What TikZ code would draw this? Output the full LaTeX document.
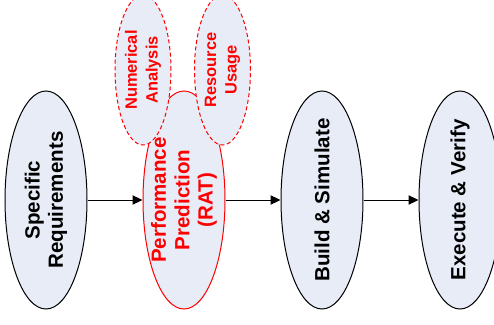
\documentclass[tikz,border=0pt]{standalone}
\usepackage{fontspec}
\setmainfont{Liberation Sans}
\usepackage{xcolor}
\usepackage{tikz}
\usetikzlibrary{positioning,arrows.meta,shapes.geometric}

\definecolor{stagefill}{RGB}{231,236,247}

\begin{document}
\begin{tikzpicture}[
  x=0.75pt, y=-0.75pt,
  stage/.style={draw, ellipse, fill=stagefill, line width=0.75pt, inner sep=0pt, minimum width=61.5pt, minimum height=163.5pt},
  hot/.style={draw=red},
  sub/.style={draw=red, dashed, dash pattern=on 3pt off 2pt, ellipse, fill=stagefill, line width=0.75pt, inner sep=0pt, minimum width=42pt, minimum height=112.5pt},
  vtext/.style={rotate=90, align=center, font=\bfseries\fontsize{15.4}{17.5}\selectfont},
  vsmall/.style={rotate=90, align=center, text=red, font=\bfseries\fontsize{12.3}{15.5}\selectfont},
  arr/.style={-{Triangle[length=7.5pt, width=7pt]}, line width=0.75pt}
]
\useasboundingbox (0,0) rectangle (494,325);

\node[stage, label={[vtext]center:Specific\\Requirements}] (spec) at (46,200) {};
\node[stage, hot, right=41.25pt of spec, label={[vtext, text=red]center:Performance\\Prediction\\(RAT)}] (perf) {};
\node[stage, right=41.25pt of perf, label={[vtext]center:Build \& Simulate}] (build) {};
\node[stage, right=41.25pt of build, label={[vtext]center:Execute \& Verify}] (exec) {};

% analysis bubbles on top of the prediction step
\node[sub, label={[vsmall]center:Numerical\\Analysis}] (num) at (143,70) {};
\node[sub, label={[vsmall]center:Resource\\Usage}] (res) at (222.5,70) {};

\draw[arr] (spec) -- (perf);
\draw[arr] (perf) -- (build);
\draw[arr] (build) -- (exec);
\end{tikzpicture}
\end{document}
